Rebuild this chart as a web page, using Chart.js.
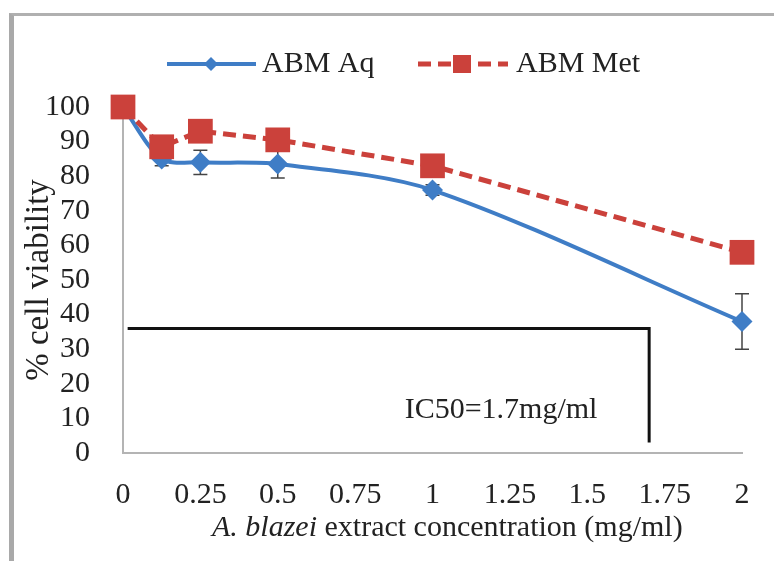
<!DOCTYPE html>
<html>
<head>
<meta charset="utf-8">
<script src="https://cdn.jsdelivr.net/npm/chart.js@4.4.1/dist/chart.umd.min.js"></script>
<style>
	body { margin: 0; background: #fff; }
	#wrap { position: relative; width: 774px; height: 561px; overflow: hidden; }
	#frame { position: absolute; left: 9px; top: 13px; width: 800px; height: 600px;
		border-top: 3px solid #b0b0b0; border-left: 5px solid #a9a9a9; }
	#mycanvas { position: absolute; left: 0; top: 0; }
</style>
</head>
<body>
<div id="wrap">
	<div id="frame"></div>
	<canvas id="mycanvas" width="774" height="561"></canvas>
</div>
<script>
// concentrations (mg/ml)
var conc = [0, 0.125, 0.25, 0.5, 1, 2];
var aqValues = [100, 85, 84, 83.5, 76, 38];
var aqErrors = [0, 2, 3.5, 4, 1.5, 8];
var metValues = [100, 88.5, 93, 90.5, 83, 58];
var metErrors = [0, 1, 1.5, 1.5, 1.5, 1.5];

var xTicks = [0, 0.25, 0.5, 0.75, 1, 1.25, 1.5, 1.75, 2];
var xTickLabels = ['0', '0.25', '0.5', '0.75', '1', '1.25', '1.5', '1.75', '2'];
var yTicks = [0, 10, 20, 30, 40, 50, 60, 70, 80, 90, 100];
var yTickLabels = ['0', '10', '20', '30', '40', '50', '60', '70', '80', '90', '100'];

// IC50 guide line
var ic50X = [0.015, 1.7, 1.7];
var ic50Y = [36, 36, 3];
var ic50Text = 'IC50=1.7mg/ml';

var BLUE = '#3F7DC6';
var RED = '#CB413B';
var SERIF = "'Liberation Serif', 'Times New Roman', serif";

function toPoints(xs, ys) {
	var pts = [];
	for (var i in xs) pts.push({x: xs[i], y: ys[i]});
	return pts;
}

var errorBars = {
	id: 'errorBars',
	beforeDatasetDraw: function(chart, args) {
		var ds = chart.data.datasets[args.index];
		if (!ds.errors) return;
		var ctx = chart.ctx;
		var yScale = chart.scales.y;
		ctx.save();
		ctx.strokeStyle = ds.errorColor;
		ctx.lineWidth = 1.5;
		args.meta.data.forEach(function(pt, j) {
			var e = ds.errors[j];
			if (!e) return;
			var v = ds.data[j].y;
			var top = yScale.getPixelForValue(v + e);
			var bot = yScale.getPixelForValue(v - e);
			ctx.beginPath();
			ctx.moveTo(pt.x, top); ctx.lineTo(pt.x, bot);
			ctx.moveTo(pt.x - 7, top); ctx.lineTo(pt.x + 7, top);
			ctx.moveTo(pt.x - 7, bot); ctx.lineTo(pt.x + 7, bot);
			ctx.stroke();
		});
		ctx.restore();
	}
};

var extras = {
	id: 'extras',
	afterDraw: function(chart) {
		var ctx = chart.ctx;
		var area = chart.chartArea;
		var xs = chart.scales.x, ys = chart.scales.y;
		ctx.save();
		ctx.fillStyle = '#222';
		ctx.textBaseline = 'middle';

		// IC50 label
		ctx.font = '30px ' + SERIF;
		ctx.textAlign = 'left';
		ctx.fillText(ic50Text, xs.getPixelForValue(0.91), ys.getPixelForValue(12.5));

		// x axis title, italic species name
		var y = area.bottom + 75;
		var x = area.left + 89;
		ctx.font = 'italic 30px ' + SERIF;
		ctx.fillText('A. blazei', x, y);
		x += ctx.measureText('A. blazei').width;
		ctx.font = '30px ' + SERIF;
		ctx.fillText(' extract concentration (mg/ml)', x, y);

		// legend
		var ly = 64;
		ctx.strokeStyle = BLUE;
		ctx.lineWidth = 4;
		ctx.beginPath(); ctx.moveTo(167, ly); ctx.lineTo(256, ly); ctx.stroke();
		ctx.fillStyle = BLUE;
		ctx.beginPath();
		ctx.moveTo(211 - 7, ly); ctx.lineTo(211, ly - 7); ctx.lineTo(211 + 7, ly); ctx.lineTo(211, ly + 7);
		ctx.closePath(); ctx.fill();
		ctx.fillStyle = '#222';
		ctx.fillText('ABM Aq', 262, ly);

		ctx.strokeStyle = RED;
		ctx.lineWidth = 5;
		ctx.setLineDash([13, 7]);
		ctx.beginPath(); ctx.moveTo(418, ly); ctx.lineTo(508, ly); ctx.stroke();
		ctx.setLineDash([]);
		ctx.fillStyle = RED;
		ctx.fillRect(462 - 9, ly - 9, 18, 18);
		ctx.fillStyle = '#222';
		ctx.fillText('ABM Met', 516, ly);
		ctx.restore();
	}
};

var ctx = document.getElementById('mycanvas');

var chart = new Chart(ctx, {
	type: 'line',
	data: {
		datasets: [
			{
				label: 'ABM Met',
				data: toPoints(conc, metValues),
				errors: metErrors,
				errorColor: RED,
				borderColor: RED,
				backgroundColor: RED,
				borderWidth: 5,
				borderDash: [13, 7],
				pointStyle: 'rect',
				pointRadius: 17.5,
				pointBorderWidth: 0,
				tension: 0,
				clip: false,
				order: 0
			},
			{
				label: 'ABM Aq',
				data: toPoints(conc, aqValues),
				errors: aqErrors,
				errorColor: '#444',
				borderColor: BLUE,
				backgroundColor: BLUE,
				borderWidth: 4,
				pointStyle: 'rectRot',
				pointRadius: 10.5,
				pointBorderWidth: 0,
				tension: 0.3,
				clip: false,
				order: 1
			},
			{
				label: 'IC50',
				data: toPoints(ic50X, ic50Y),
				borderColor: '#111',
				borderWidth: 3,
				pointRadius: 0,
				tension: 0,
				order: 2
			}
		]
	},
	options: {
		responsive: false,
		animation: false,
		devicePixelRatio: 1,
		layout: { padding: { left: 20, top: 107, right: 32, bottom: 0 } },
		plugins: {
			legend: { display: false },
			tooltip: { enabled: false }
		},
		scales: {
			x: {
				type: 'linear',
				min: 0,
				max: 2,
				afterBuildTicks: function(scale) {
					scale.ticks = xTicks.map(function(v) { return {value: v}; });
				},
				afterFit: function(scale) { scale.height = 108; },
				grid: { display: false },
				border: { display: true, color: '#b4b4b4', width: 2 },
				ticks: {
					padding: 16,
					autoSkip: false,
					color: '#222',
					font: { family: SERIF, size: 30 },
					maxRotation: 0,
					callback: function(v) { return xTickLabels[xTicks.indexOf(v)]; }
				}
			},
			y: {
				min: 0,
				max: 100,
				afterBuildTicks: function(scale) {
					scale.ticks = yTicks.map(function(v) { return {value: v}; });
				},
				afterFit: function(scale) { scale.width = 103; },
				grid: { display: false },
				border: { display: true, color: '#b4b4b4', width: 2 },
				ticks: {
					padding: 25,
					autoSkip: false,
					color: '#222',
					font: { family: SERIF, size: 30 },
					callback: function(v) { return yTickLabels[yTicks.indexOf(v)]; }
				},
				title: {
					display: true,
					text: '% cell viability',
					color: '#222',
					font: { family: SERIF, size: 33 },
					padding: { top: 0, bottom: 0 }
				}
			}
		}
	},
	plugins: [errorBars, extras]
});
</script>
</body>
</html>
